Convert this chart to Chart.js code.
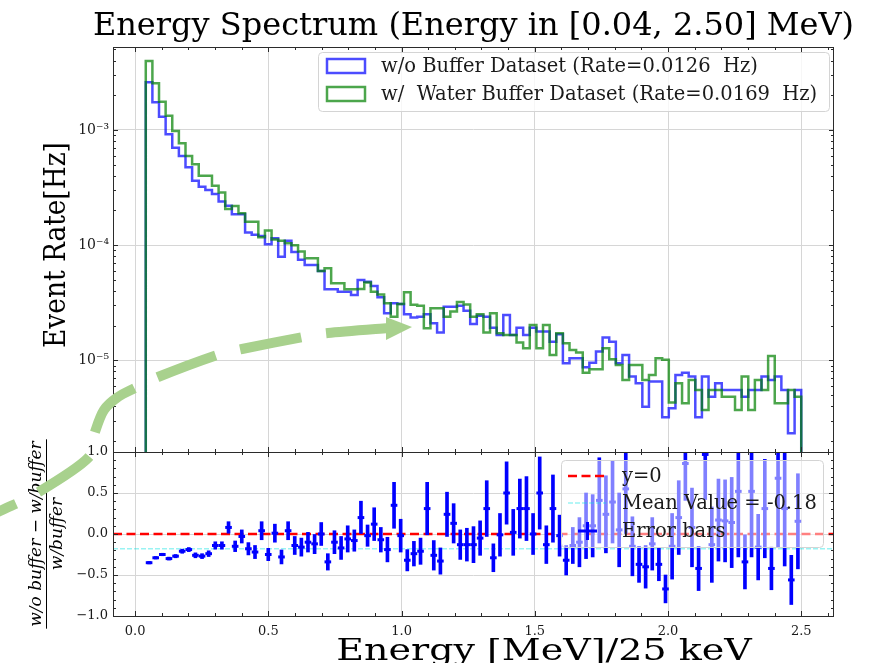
<!DOCTYPE html>
<html>
<head>
<meta charset="utf-8">
<script src="https://cdn.jsdelivr.net/npm/chart.js@4"></script>
<style>
  html, body { margin: 0; background: #fff; }
  #wrap { position: relative; width: 886px; height: 663px; overflow: hidden; }
  #wrap canvas { position: absolute; left: 0; top: 0; }
</style>
</head>
<body>
<div id="wrap">
  <canvas id="spec" width="886" height="663"></canvas>
  <canvas id="ratio" width="886" height="663"></canvas>
</div>
<script>
// binning: 99 equal bins between 0.04 and 2.50 MeV
const E_LO = 0.04, E_HI = 2.50, N_BINS = 99;
const X_MIN = -0.083, X_MAX = 2.623;
const X_TICKS = [0, 0.5, 1.0, 1.5, 2.0, 2.5];
const TOP_Y_TICKS = [1e-5, 1e-4, 1e-3];
const TOP_Y_MIN = 1.6e-6, TOP_Y_MAX = 5.25e-3;
const RATIO_Y_TICKS = [-1, -0.5, 0, 0.5, 1];
const RATE_WO = '0.0126', RATE_WATER = '0.0169';
const MEAN_RATIO = -0.18;

// event rate per bin [Hz], no buffer
const rateWo = [
  2.59e-3, 1.74e-3, 1.30e-3, 9.18e-4, 7.02e-4, 5.94e-4, 4.74e-4, 3.63e-4, 3.22e-4, 3.01e-4,
  2.78e-4, 2.39e-4, 2.20e-4, 1.85e-4, 1.85e-4, 1.29e-4, 1.23e-4, 1.20e-4, 1.02e-4, 1.15e-4,
  7.91e-5, 1.09e-4, 8.73e-5, 7.45e-5, 6.73e-5, 6.73e-5, 5.97e-5, 4.14e-5, 4.14e-5, 3.94e-5,
  3.94e-5, 3.70e-5, 4.99e-5, 4.82e-5, 4.42e-5, 3.53e-5, 2.56e-5, 3.13e-5, 3.09e-5, 2.51e-5,
  2.35e-5, 2.39e-5, 2.51e-5, 2.10e-5, 1.74e-5, 2.92e-5, 2.92e-5, 2.97e-5, 2.70e-5, 2.07e-5,
  2.44e-5, 2.39e-5, 1.92e-5, 1.66e-5, 2.48e-5, 1.66e-5, 1.92e-5, 1.66e-5, 1.92e-5, 1.78e-5,
  1.78e-5, 1.45e-5, 1.68e-5, 9.44e-6, 1.04e-5, 1.04e-5, 8.70e-6, 9.55e-6, 1.19e-5, 1.58e-5,
  1.45e-5, 9.44e-6, 1.11e-5, 7.22e-6, 6.32e-6, 3.96e-6, 6.54e-6, 6.54e-6, 3.21e-6, 3.84e-6,
  7.46e-6, 7.81e-6, 7.22e-6, 3.21e-6, 7.22e-6, 4.84e-6, 6.32e-6, 5.53e-6, 5.53e-6, 5.53e-6,
  4.84e-6, 5.53e-6, 5.53e-6, 7.22e-6, 6.76e-6, 7.22e-6, 5.53e-6, 2.33e-6, 5.53e-6
];
// event rate per bin [Hz], water buffer
const rateWater = [
  3.97e-3, 2.54e-3, 1.76e-3, 1.33e-3, 9.80e-4, 7.67e-4, 5.94e-4, 5.04e-4, 4.01e-4, 4.01e-4,
  3.27e-4, 2.86e-4, 2.06e-4, 2.19e-4, 1.89e-4, 1.60e-4, 1.60e-4, 1.17e-4, 1.34e-4, 1.12e-4,
  1.09e-4, 1.04e-4, 1.00e-4, 8.79e-5, 7.69e-5, 7.69e-5, 5.97e-5, 6.30e-5, 4.67e-5, 4.67e-5,
  4.14e-5, 4.14e-5, 4.17e-5, 4.73e-5, 3.94e-5, 3.72e-5, 3.13e-5, 2.39e-5, 3.09e-5, 3.90e-5,
  3.03e-5, 2.97e-5, 1.90e-5, 2.83e-5, 2.83e-5, 2.39e-5, 2.65e-5, 3.21e-5, 3.05e-5, 2.39e-5,
  2.51e-5, 1.74e-5, 2.56e-5, 1.72e-5, 1.66e-5, 1.66e-5, 1.43e-5, 1.27e-5, 2.03e-5, 1.27e-5,
  2.03e-5, 1.11e-5, 1.72e-5, 1.41e-5, 1.23e-5, 1.17e-5, 7.81e-6, 8.36e-6, 8.36e-6, 1.27e-5,
  1.02e-5, 9.12e-6, 6.76e-6, 9.12e-6, 9.12e-6, 6.76e-6, 7.46e-6, 1.04e-5, 1.01e-5, 4.30e-6,
  6.32e-6, 4.24e-6, 6.76e-6, 5.53e-6, 3.71e-6, 5.53e-6, 5.53e-6, 4.84e-6, 4.84e-6, 3.71e-6,
  7.22e-6, 3.71e-6, 6.76e-6, 5.53e-6, 1.09e-5, 4.24e-6, 4.24e-6, 5.53e-6, 4.84e-6
];
// (wo - w)/w per bin and its uncertainty
const ratio = [
  -0.35, -0.29, -0.25, -0.30, -0.27, -0.21, -0.19, -0.26, -0.27, -0.24,
  -0.14, -0.14, 0.08, -0.15, -0.03, -0.18, -0.22, 0.04, -0.25, 0.01,
  -0.28, 0.04, -0.14, -0.16, -0.10, -0.12, 0.00, -0.34, -0.10, -0.17,
  -0.06, -0.08, 0.20, -0.02, 0.12, -0.07, -0.19, 0.35, -0.02, -0.32,
  -0.24, -0.21, 0.31, -0.26, -0.33, 0.24, 0.13, -0.13, -0.13, -0.13,
  -0.05, 0.31, -0.29, -0.01, 0.50, 0.02, 0.31, 0.31, 0.00, 0.50,
  -0.13, 0.31, -0.02, -0.32, -0.14, -0.10, 0.10, 0.10, 0.41, 0.24,
  0.39, 0.05, 0.55, -0.15, -0.37, -0.40, -0.12, -0.37, -0.67, -0.15,
  0.20, 0.86, 0.08, -0.42, 0.97, -0.13, 0.17, 0.16, 0.14, 0.52,
  -0.34, 0.52, -0.16, 0.31, -0.42, 0.68, 0.31, -0.56, 0.155
];
const ratioErr = [
  0.015, 0.015, 0.015, 0.018, 0.02, 0.025, 0.025, 0.03, 0.03, 0.035,
  0.045, 0.045, 0.07, 0.065, 0.08, 0.075, 0.08, 0.11, 0.075, 0.11,
  0.085, 0.11, 0.11, 0.11, 0.12, 0.12, 0.14, 0.10, 0.14, 0.14,
  0.16, 0.13, 0.20, 0.13, 0.20, 0.15, 0.15, 0.28, 0.20, 0.13,
  0.15, 0.16, 0.32, 0.18, 0.16, 0.27, 0.24, 0.18, 0.20, 0.22,
  0.21, 0.34, 0.17, 0.26, 0.38, 0.28, 0.36, 0.39, 0.25, 0.44,
  0.23, 0.41, 0.25, 0.18, 0.22, 0.30, 0.40, 0.38, 0.52, 0.47,
  0.50, 0.45, 0.55, 0.36, 0.22, 0.26, 0.32, 0.20, 0.17, 0.40,
  0.45, 0.45, 0.48, 0.27, 0.55, 0.46, 0.50, 0.50, 0.55, 0.80,
  0.33, 0.80, 0.40, 0.60, 0.26, 0.84, 0.70, 0.30, 0.58
];

const W = 886, H = 663;
const BOX = { left: 113, right: 834, top: 47, mid: 452, bottom: 616 };
const SERIF = '"DejaVu Serif", serif';
const INK = '#1a1a1a';
const GRID = '#d6d6d6';
const BLUE = 'rgba(0,0,255,0.7)';
const GREEN = 'rgba(0,128,0,0.7)';

const binW = (E_HI - E_LO) / N_BINS;
const edges = Array.from({ length: N_BINS + 1 }, (_, i) => E_LO + binW * i);
const centers = edges.slice(0, -1).map((e, i) => (e + edges[i + 1]) / 2);

function stepData(vals) {
  const floor = 1e-8;
  const pts = [{ x: edges[0], y: floor }];
  vals.forEach((v, i) => pts.push({ x: edges[i], y: v }));
  pts.push({ x: edges[N_BINS], y: vals[N_BINS - 1] });
  pts.push({ x: edges[N_BINS], y: floor });
  return pts;
}

const SUP = { '-': '\u207B', '0': '\u2070', '1': '\u00B9', '2': '\u00B2', '3': '\u00B3',
  '4': '\u2074', '5': '\u2075', '6': '\u2076', '7': '\u2077', '8': '\u2078', '9': '\u2079' };
const pow10Label = v => '10' + String(Math.round(Math.log10(v))).split('').map(c => SUP[c]).join('');

function range(a, b, step) {
  const out = [];
  for (let v = a; v <= b + 1e-9; v += step) out.push(Math.round(v * 1000) / 1000);
  return out;
}
const X_MINOR = range(0, 2.6, 0.1);
const RATIO_MINOR = range(-1, 1, 0.1);
const TOP_MINOR = [];
for (let d = -6; d <= -2; d++) for (let m = 1; m <= 9; m++) TOP_MINOR.push(m * Math.pow(10, d));

// inward ticks on all four sides plus the frame
function drawFrame(chart, yMajor, yMinor) {
  const { ctx, chartArea: a, scales } = chart;
  const sx = scales.x, sy = scales.y;
  ctx.save();
  ctx.strokeStyle = '#2b2b2b';
  ctx.lineWidth = 1;
  ctx.beginPath();
  const tick = (x0, y0, x1, y1) => { ctx.moveTo(x0, y0); ctx.lineTo(x1, y1); };
  X_MINOR.forEach(v => {
    const x = Math.round(sx.getPixelForValue(v)) + 0.5;
    const len = X_TICKS.some(t => Math.abs(t - v) < 1e-6) ? 5 : 3;
    tick(x, a.top, x, a.top + len);
    tick(x, a.bottom, x, a.bottom - len);
  });
  yMinor.forEach(v => {
    const y = sy.getPixelForValue(v);
    if (y < a.top - 0.5 || y > a.bottom + 0.5) return;
    const yy = Math.round(y) + 0.5;
    const len = yMajor.some(t => Math.abs(t - v) < Math.abs(t) * 1e-6 + 1e-9) ? 5 : 3;
    tick(a.left, yy, a.left + len, yy);
    tick(a.right, yy, a.right - len, yy);
  });
  ctx.stroke();
  ctx.strokeRect(a.left + 0.5, a.top + 0.5, a.right - a.left - 1, a.bottom - a.top);
  ctx.restore();
}

function text(ctx, str, x, y, font, align, baseline, color) {
  ctx.font = font;
  ctx.textAlign = align || 'left';
  ctx.textBaseline = baseline || 'middle';
  ctx.fillStyle = color || INK;
  ctx.fillText(str, x, y);
}

const LEGEND_FONT = '19.5px ' + SERIF;

const specDecor = {
  id: 'specDecor',
  afterDatasetsDraw(chart) {
    const ctx = chart.ctx;
    const ds = chart.data.datasets;
    ctx.save();
    ctx.beginPath();
    ctx.roundRect(318.5, 52.5, 511, 59, 4);
    ctx.fillStyle = 'rgba(255,255,255,0.8)';
    ctx.fill();
    ctx.strokeStyle = '#d4d4d4';
    ctx.lineWidth = 1;
    ctx.stroke();
    [0, 1].forEach(k => {
      const y = 66 + k * 28;
      ctx.strokeStyle = ds[k].borderColor;
      ctx.lineWidth = 2.5;
      ctx.strokeRect(327, y - 7, 38, 14);
      text(ctx, ds[k].label, 381, y + 1, LEGEND_FONT, 'left', 'middle');
    });
    ctx.restore();
  },
  afterDraw(chart) {
    const ctx = chart.ctx;
    drawFrame(chart, TOP_Y_TICKS, TOP_MINOR);
    ctx.save();
    text(ctx, 'Energy Spectrum (Energy in [0.04, 2.50] MeV)', (BOX.left + BOX.right) / 2, 35,
      '32px ' + SERIF, 'center', 'alphabetic', '#000');
    ctx.translate(57, 245);
    ctx.rotate(-Math.PI / 2);
    ctx.scale(0.88, 1);
    text(ctx, 'Event Rate[Hz]', 0, 0, '30px ' + SERIF, 'center', 'middle', '#000');
    ctx.restore();
  }
};

const ratioDecor = {
  id: 'ratioDecor',
  afterDatasetsDraw(chart) {
    const ctx = chart.ctx;
    const ds = chart.data.datasets;
    ctx.save();
    ctx.beginPath();
    ctx.roundRect(561.5, 460.5, 262, 87, 4);
    ctx.fillStyle = 'rgba(255,255,255,0.5)';
    ctx.fill();
    ctx.strokeStyle = '#d4d4d4';
    ctx.lineWidth = 1;
    ctx.stroke();
    // y=0 handle
    ctx.strokeStyle = ds[0].borderColor;
    ctx.lineWidth = ds[0].borderWidth;
    ctx.setLineDash(ds[0].borderDash);
    ctx.beginPath(); ctx.moveTo(568, 476); ctx.lineTo(606, 476); ctx.stroke();
    // mean handle
    ctx.strokeStyle = ds[1].borderColor;
    ctx.lineWidth = ds[1].borderWidth;
    ctx.setLineDash(ds[1].borderDash);
    ctx.beginPath(); ctx.moveTo(568, 503); ctx.lineTo(606, 503); ctx.stroke();
    // error bar handle
    ctx.setLineDash([]);
    ctx.strokeStyle = '#0000ff';
    ctx.lineWidth = 3;
    ctx.beginPath();
    ctx.moveTo(578, 531); ctx.lineTo(597, 531);
    ctx.moveTo(587.5, 522); ctx.lineTo(587.5, 540);
    ctx.stroke();
    text(ctx, ds[0].label, 622, 477, LEGEND_FONT);
    text(ctx, ds[1].label, 622, 504, LEGEND_FONT);
    text(ctx, ds[2].label, 622, 532, LEGEND_FONT);
    ctx.restore();
  },
  afterDraw(chart) {
    const ctx = chart.ctx;
    drawFrame(chart, RATIO_Y_TICKS, RATIO_MINOR);
    ctx.save();
    ctx.translate(544, 660);
    ctx.scale(1, 0.8);
    text(ctx, 'Energy [MeV]/25 keV', 0, 0, '38px ' + SERIF, 'center', 'alphabetic', '#000');
    ctx.restore();

    // fraction label on the ratio axis
    ctx.save();
    ctx.translate(46, 534);
    ctx.rotate(-Math.PI / 2);
    const fi = 'italic 17px ' + SERIF;
    ctx.font = fi;
    const num = 'w/o buffer \u2212 w/buffer';
    const wNum = ctx.measureText(num).width;
    text(ctx, num, 0, -5, fi, 'center', 'alphabetic', '#000');
    ctx.strokeStyle = '#000';
    ctx.lineWidth = 1;
    ctx.beginPath();
    ctx.moveTo(-wNum / 2 - 2, 0.5); ctx.lineTo(wNum / 2 + 2, 0.5);
    ctx.stroke();
    text(ctx, 'w/buffer', 0, 16, fi, 'center', 'alphabetic', '#000');
    ctx.restore();

    // dashed pointer arrow
    ctx.save();
    const path = [[388, 328], [328, 333], [303, 337], [242, 349], [217, 355], [158, 377], [135, 388],
      [118, 397], [104, 410], [95, 432], [88, 458], [37, 493], [0, 511], [-40, 530]];
    ctx.strokeStyle = 'rgb(168,209,141)';
    ctx.fillStyle = 'rgb(168,209,141)';
    ctx.lineWidth = 10;
    ctx.lineCap = 'butt';
    ctx.setLineDash([62, 25.5]);
    ctx.beginPath();
    ctx.moveTo(path[0][0], path[0][1]);
    for (let i = 0; i < path.length - 1; i++) {
      const p0 = path[Math.max(i - 1, 0)], p1 = path[i], p2 = path[i + 1], p3 = path[Math.min(i + 2, path.length - 1)];
      ctx.bezierCurveTo(p1[0] + (p2[0] - p0[0]) / 6, p1[1] + (p2[1] - p0[1]) / 6,
        p2[0] - (p3[0] - p1[0]) / 6, p2[1] - (p3[1] - p1[1]) / 6, p2[0], p2[1]);
    }
    ctx.stroke();
    ctx.setLineDash([]);
    ctx.beginPath();
    ctx.moveTo(386, 317); ctx.lineTo(412, 327); ctx.lineTo(386, 340); ctx.closePath();
    ctx.fill();
    ctx.restore();
  }
};

const tickFont = { family: SERIF, size: 13 };

new Chart(document.getElementById('spec'), {
  type: 'line',
  data: {
    datasets: [
      { label: `w/o Buffer Dataset (Rate=${RATE_WO}  Hz)`, data: stepData(rateWo), borderColor: BLUE, order: 2 },
      { label: `w/  Water Buffer Dataset (Rate=${RATE_WATER}  Hz)`, data: stepData(rateWater), borderColor: GREEN, order: 1 }
    ]
  },
  options: {
    responsive: false, animation: false, events: [], devicePixelRatio: 1,
    layout: { padding: { top: BOX.top, right: W - BOX.right, bottom: H - BOX.mid, left: 0 } },
    datasets: { line: { stepped: 'before', borderWidth: 2.5, pointRadius: 0, fill: false, tension: 0 } },
    plugins: { legend: { display: false }, tooltip: { enabled: false } },
    scales: {
      x: {
        type: 'linear', min: X_MIN, max: X_MAX,
        border: { display: false },
        grid: { color: GRID, drawTicks: false },
        ticks: { display: false },
        afterBuildTicks: s => { s.ticks = X_TICKS.map(v => ({ value: v })); },
        afterFit: s => { s.height = 0; }
      },
      y: {
        type: 'logarithmic', min: TOP_Y_MIN, max: TOP_Y_MAX,
        border: { display: false },
        grid: { color: GRID, drawTicks: false },
        ticks: { font: { family: SERIF, size: 14 }, color: INK, padding: 4, callback: v => pow10Label(v) },
        afterBuildTicks: s => { s.ticks = TOP_Y_TICKS.map(v => ({ value: v })); },
        afterFit: s => { s.width = BOX.left; }
      }
    }
  },
  plugins: [specDecor]
});

new Chart(document.getElementById('ratio'), {
  type: 'scatter',
  data: {
    datasets: [
      { type: 'line', label: 'y=0', data: [{ x: X_MIN, y: 0 }, { x: X_MAX, y: 0 }],
        borderColor: '#ff0000', borderWidth: 2.5, borderDash: [9, 4.5], pointRadius: 0, order: 4 },
      { type: 'line', label: `Mean Value = ${MEAN_RATIO.toFixed(2)}`, data: [{ x: X_MIN, y: MEAN_RATIO }, { x: X_MAX, y: MEAN_RATIO }],
        borderColor: 'rgba(0,225,225,0.4)', borderWidth: 1.5, borderDash: [5, 2], pointRadius: 0, order: 5 },
      { type: 'bar', label: 'Error bars',
        data: ratio.map((r, i) => ({ x: centers[i], y: [r - ratioErr[i], r + ratioErr[i]] })),
        backgroundColor: '#0000ff', borderWidth: 0, barThickness: 3, order: 2 },
      { type: 'scatter', label: 'bin width',
        data: ratio.map((r, i) => ({ x: centers[i], y: r })),
        pointStyle: 'line', borderColor: '#0000ff', borderWidth: 3,
        pointRadius: c => { const s = c.chart.scales.x; return (s.getPixelForValue(binW) - s.getPixelForValue(0)) / 2; },
        order: 1 }
    ]
  },
  options: {
    responsive: false, animation: false, events: [], devicePixelRatio: 1,
    layout: { padding: { top: BOX.mid, right: W - BOX.right, bottom: 0, left: 0 } },
    plugins: { legend: { display: false }, tooltip: { enabled: false } },
    scales: {
      x: {
        type: 'linear', min: X_MIN, max: X_MAX, offset: false,
        border: { display: false },
        grid: { color: GRID, drawTicks: false, offset: false },
        ticks: { font: tickFont, color: INK, padding: 8, maxRotation: 0, callback: v => v.toFixed(1) },
        afterBuildTicks: s => { s.ticks = X_TICKS.map(v => ({ value: v })); },
        afterFit: s => { s.height = H - BOX.bottom; }
      },
      y: {
        type: 'linear', min: -1, max: 1,
        border: { display: false },
        grid: { color: GRID, drawTicks: false },
        ticks: { font: tickFont, color: INK, padding: 5,
          callback: v => (v < 0 ? '\u2212' : '') + Math.abs(v).toFixed(1) },
        afterBuildTicks: s => { s.ticks = RATIO_Y_TICKS.map(v => ({ value: v })); },
        afterFit: s => { s.width = BOX.left; }
      }
    }
  },
  plugins: [ratioDecor]
});
</script>
</body>
</html>
